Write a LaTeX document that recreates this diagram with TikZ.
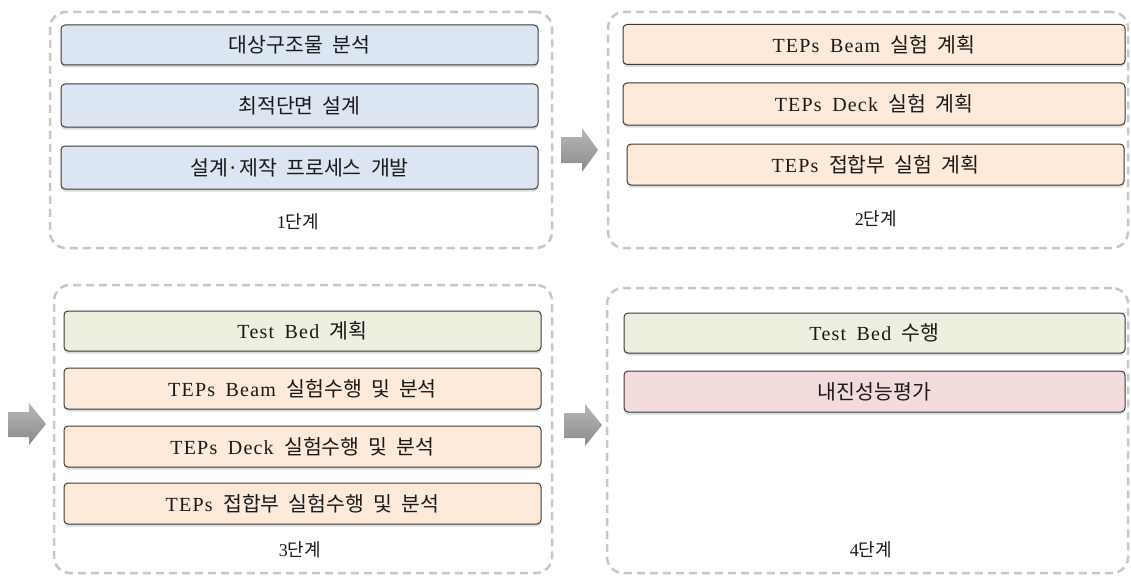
\documentclass[tikz,border=0pt]{standalone}
\usepackage{fontspec}
\setmainfont{Liberation Serif}[LetterSpace=6,WordSpace=1.7]
\newfontfamily\kr{Noto Sans CJK KR}[WordSpace=2]
\usetikzlibrary{shadows}
\newcommand\K[1]{{\kr\fontsize{20.5}{22}\selectfont #1}}
\newcommand\KL[1]{{\kr #1}}
\definecolor{bluefill}{HTML}{DCE6F2}
\definecolor{orangefill}{HTML}{FDEADA}
\definecolor{greenfill}{HTML}{EBF1DE}
\definecolor{pinkfill}{HTML}{F2DCDB}
\definecolor{dashgray}{HTML}{C8C8C8}
\definecolor{boxline}{HTML}{3A3A3A}
\definecolor{txt}{HTML}{1A1A1A}
\definecolor{arrtop}{HTML}{B8B8B8}
\definecolor{arrbot}{HTML}{8A8A8A}
\begin{document}
\begin{tikzpicture}[x=1pt,y=-1pt,
  panel/.style={draw=dashgray, line width=2.5pt, dash pattern=on 8pt off 5pt, rounded corners=16pt, inner sep=0pt},
  item/.style={draw=boxline, line width=1pt, rounded corners=4pt, inner sep=0pt, text=txt,
    font=\fontsize{20}{22}\selectfont,
    drop shadow={shadow xshift=0pt,shadow yshift=-2.5pt,fill=gray!55,opacity=0.5}},
  lab/.style={inner sep=0pt, text=txt, font=\fontsize{18}{20}\selectfont},
  bigarrow/.style={top color=arrtop, bottom color=arrbot}
]
\useasboundingbox[fill=white] (0,0) rectangle (1131,575);

% panels
\node[panel, minimum width=502pt, minimum height=236pt] (p1) at (301,130) {};
\node[panel, minimum width=520pt, minimum height=236pt] (p2) at (868,130) {};
\node[panel, minimum width=498pt, minimum height=288pt] (p3) at (303,429) {};
\node[panel, minimum width=521pt, minimum height=285pt] (p4) at (867.5,430.5) {};

% stage 1
\node[item, fill=bluefill, minimum width=477pt, minimum height=40pt] (b11) at (299.5,45) {\K{대상구조물 분석}};
\node[item, fill=bluefill, minimum width=477pt, minimum height=43pt] (b12) at (299.5,105.5) {\K{최적단면 설계}};
\node[item, fill=bluefill, minimum width=477pt, minimum height=43pt] (b13) at (299.5,167.5) {\K{설계·제작 프로세스 개발}};
\node[lab] (l1) at (298,222) {1\KL{단계}};

% stage 2
\node[item, fill=orangefill, minimum width=502pt, minimum height=40pt] (b21) at (874,44.5) {TEPs Beam \K{실험 계획}};
\node[item, fill=orangefill, minimum width=502pt, minimum height=42pt] (b22) at (874,104) {TEPs Deck \K{실험 계획}};
\node[item, fill=orangefill, minimum width=497pt, minimum height=41pt] (b23) at (875.5,164.5) {TEPs \K{접합부 실험 계획}};
\node[lab] (l2) at (876,219) {2\KL{단계}};

% stage 3
\node[item, fill=greenfill, minimum width=477pt, minimum height=40pt] (b31) at (302.5,331) {Test Bed \K{계획}};
\node[item, fill=orangefill, minimum width=477pt, minimum height=41pt] (b32) at (302.5,388.5) {TEPs Beam \K{실험수행 및 분석}};
\node[item, fill=orangefill, minimum width=477pt, minimum height=41pt] (b33) at (302.5,446.5) {TEPs Deck \K{실험수행 및 분석}};
\node[item, fill=orangefill, minimum width=477pt, minimum height=41pt] (b34) at (302.5,503.5) {TEPs \K{접합부 실험수행 및 분석}};
\node[lab] (l3) at (300,550) {3\KL{단계}};

% stage 4
\node[item, fill=greenfill, minimum width=501pt, minimum height=40pt] (b41) at (874.5,333) {Test Bed \K{수행}};
\node[item, fill=pinkfill, minimum width=501pt, minimum height=41pt] (b42) at (874.5,391.5) {\K{내진성능평가}};
\node[lab] (l4) at (871,550) {4\KL{단계}};

% block arrows between stages
\shade[bigarrow] (561,137) -- (582,137) -- (582,128) -- (598,150) -- (582,172) -- (582,163) -- (561,163) -- cycle;
\shade[bigarrow] (8,412) -- (29,412) -- (29,403) -- (46,424) -- (29,445) -- (29,437) -- (8,437) -- cycle;
\shade[bigarrow] (564,413) -- (585,413) -- (585,404) -- (602,425) -- (585,446) -- (585,438) -- (564,438) -- cycle;
\end{tikzpicture}
\end{document}
